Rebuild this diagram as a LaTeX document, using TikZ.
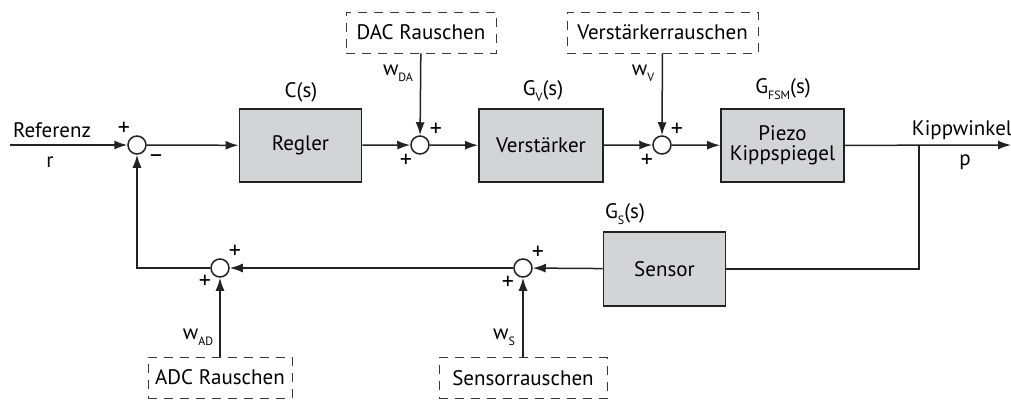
\documentclass[tikz,border=0pt]{standalone}
\usepackage{fontspec}
\setmainfont{PT Sans}
\usetikzlibrary{arrows.meta}
\definecolor{ln}{HTML}{222222}
\definecolor{boxfill}{HTML}{D3D4D5}
\newcommand{\txt}{\fontsize{21}{23}\selectfont}
\newcommand{\subx}[1]{\raisebox{-0.55ex}{\fontsize{12}{12}\selectfont #1}}
\begin{document}
\begin{tikzpicture}[x=1pt,y=-1pt,
  blk/.style={draw=ln, line width=1.8pt, fill=boxfill, minimum width=122pt, minimum height=73pt, font=\txt, align=center, inner sep=0pt},
  noise/.style={draw=ln!90, dash pattern=on 9pt off 7pt, line width=0.9pt, minimum height=41pt, font=\txt, inner sep=0pt},
  sum/.style={circle, draw=ln, line width=1.5pt, minimum size=18pt, inner sep=0pt},
  lbl/.style={font=\txt, inner sep=0pt},
  sgn/.style={font=\fontsize{24}{24}\selectfont, inner sep=0pt},
  sig/.style={draw=ln, line width=1.5pt, -{Latex[length=13pt,width=9pt]}},
  wire/.style={draw=ln, line width=1.5pt}]
\useasboundingbox (0,0) rectangle (1011,401);
% nodes
\coordinate (in) at (10,145);
\node[sum] (s1) at (137,145) {};
\node[blk] (reg) at (300.5,145.5) {Regler};
\node[sum] (s2) at (420,145) {};
\node[blk, minimum width=124pt] (ver) at (541,145.5) {Verstärker};
\node[sum] (s3) at (662,145) {};
\node[blk, minimum width=123pt] (fsm) at (782.5,145.5) {Piezo\\[-3pt]Kippspiegel};
\coordinate (br) at (919,145);
\coordinate (out) at (1011,145);
\node[blk, minimum height=74pt] (sen) at (664.5,269) {Sensor};
\node[sum] (s4) at (523,268) {};
\node[sum] (s5) at (220,268) {};
\node[noise, minimum width=150pt] (dac) at (421,32.5) {DAC Rauschen};
\node[noise, minimum width=191pt] (vr) at (662.5,32.5) {Verstärkerrauschen};
\node[noise, minimum width=168pt] (sr) at (523,378) {Sensorrauschen};
\node[noise, minimum width=144pt] (adc) at (220,377.5) {ADC Rauschen};
% labels
\node[lbl] (lref) at (52,130) {Referenz};
\node[lbl] (lr) at (50,162) {r};
\node[lbl] (lc) at (301,92) {C(s)};
\node[lbl] (lgv) at (543,91) {G\subx{V}(s)};
\node[lbl] (lgf) at (783,89) {G\subx{FSM}(s)};
\node[lbl] (lgs) at (625,214) {G\subx{S}(s)};
\node[lbl] (lk) at (962,130) {Kippwinkel};
\node[lbl] (lp) at (965,162) {p};
\node[lbl] (lwda) at (398,73) {w\subx{DA}};
\node[lbl] (lwv) at (643,73) {w\subx{V}};
\node[lbl] (lwad) at (198,337) {w\subx{AD}};
\node[lbl] (lws) at (504,337) {w\subx{S}};
% signs
\node[sgn] (p1a) at (124,129) {+};
\node[sgn] (m1) at (156,159) {\textendash};
\node[sgn] (p2a) at (436,130) {+};
\node[sgn] (p2b) at (406,161) {+};
\node[sgn] (p3a) at (677,130) {+};
\node[sgn] (p3b) at (647,161) {+};
\node[sgn] (p4a) at (538,253) {+};
\node[sgn] (p4b) at (508,283) {+};
\node[sgn] (p5a) at (235,252) {+};
\node[sgn] (p5b) at (205,282) {+};
% connectors
\draw[sig] (in) -- (s1);
\draw[sig] (s1) -- (reg);
\draw[sig] (reg) -- (s2);
\draw[sig] (dac) -- (s2);
\draw[sig] (s2) -- (ver);
\draw[sig] (ver) -- (s3);
\draw[sig] (vr) -- (s3);
\draw[sig] (s3) -- (fsm);
\draw[sig] (fsm) -- (out);
\draw[wire] (br) |- (sen.east);
\draw[sig] (sen) -- (s4);
\draw[sig] (sr) -- (s4);
\draw[sig] (s4) -- (s5);
\draw[sig] (adc) -- (s5);
\draw[sig] (s5) -| (s1);
\end{tikzpicture}
\end{document}
